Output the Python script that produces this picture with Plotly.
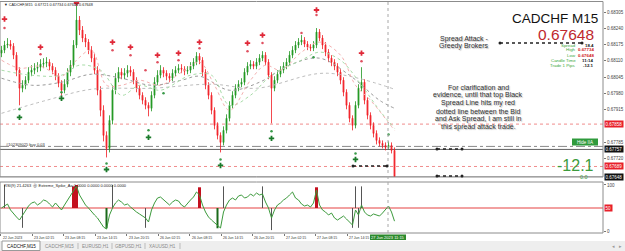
import plotly.graph_objects as go

# ---------------- data ----------------
first_open = 0.68141
closes = [0.68153,0.68173,0.68177,0.68169,0.68133,0.68073,0.68001,0.68013,0.68033,0.68065,
0.68073,0.68081,0.68085,0.68097,0.68101,0.68105,0.68089,0.68073,0.68049,0.68021,
0.67993,0.68017,0.68065,0.68093,0.68173,0.68273,0.68233,0.68201,0.68185,0.68153,
0.68121,0.68073,0.67993,0.67913,0.67813,0.67761,0.67873,0.67993,0.68041,0.68065,
0.68053,0.68061,0.68073,0.68065,0.68033,0.68001,0.67973,0.67953,0.67933,0.67921,
0.67973,0.68025,0.68053,0.68073,0.68061,0.68049,0.68041,0.68061,0.68073,0.68081,
0.68077,0.68069,0.68073,0.68089,0.68105,0.68129,0.68113,0.68065,0.68013,0.67973,
0.67913,0.67853,0.67813,0.67785,0.67833,0.67881,0.67933,0.67973,0.68001,0.68017,
0.68025,0.68065,0.68089,0.68097,0.68089,0.68105,0.68121,0.68133,0.68105,0.68053,
0.68001,0.68033,0.68057,0.68073,0.68089,0.68105,0.68133,0.68153,0.68173,0.68185,
0.68193,0.68177,0.68165,0.68161,0.68173,0.68225,0.68201,0.68173,0.68145,0.68121,
0.68105,0.68089,0.68065,0.68033,0.67985,0.67933,0.67881,0.67853,0.67933,0.68001,
0.68025,0.67953,0.67893,0.67853,0.67821,0.67793,0.67781,0.67773,0.67765,0.67773,
0.67753,0.67648]
highs = [0.68170,0.68190,0.68201,0.68193,0.68181,0.68145,0.68085,0.68033,0.68049,0.68085,
0.68093,0.68101,0.68105,0.68117,0.68121,0.68125,0.68117,0.68101,0.68085,0.68061,
0.68033,0.68037,0.68081,0.68113,0.68193,0.68329,0.68289,0.68249,0.68217,0.68197,
0.68169,0.68137,0.68089,0.68009,0.67933,0.67829,0.67893,0.68013,0.68061,0.68085,
0.68081,0.68081,0.68093,0.68089,0.68077,0.68045,0.68013,0.67985,0.67965,0.67945,
0.67989,0.68045,0.68073,0.68093,0.68085,0.68073,0.68061,0.68077,0.68089,0.68097,
0.68097,0.68089,0.68089,0.68105,0.68121,0.68145,0.68141,0.68125,0.68077,0.68025,
0.67985,0.67925,0.67865,0.67825,0.67849,0.67897,0.67949,0.67989,0.68017,0.68033,
0.68041,0.68081,0.68105,0.68113,0.68109,0.68121,0.68137,0.68149,0.68145,0.68117,
0.68065,0.68049,0.68073,0.68089,0.68105,0.68121,0.68149,0.68169,0.68189,0.68201,
0.68213,0.68205,0.68189,0.68177,0.68189,0.68241,0.68237,0.68213,0.68185,0.68157,
0.68133,0.68117,0.68101,0.68077,0.68045,0.67997,0.67945,0.67893,0.67949,0.68017,
0.68085,0.68037,0.67965,0.67905,0.67865,0.67833,0.67805,0.67793,0.67785,0.67789,
0.67785,0.67765]
lows = [0.68125,0.68141,0.68161,0.68155,0.68117,0.68049,0.67933,0.67985,0.67997,0.68021,
0.68049,0.68057,0.68065,0.68069,0.68081,0.68085,0.68073,0.68057,0.68033,0.68005,
0.67969,0.67981,0.68005,0.68049,0.68081,0.68161,0.68213,0.68185,0.68165,0.68137,
0.68105,0.68057,0.67973,0.67889,0.67789,0.67725,0.67745,0.67857,0.67977,0.68025,
0.68037,0.68037,0.68045,0.68049,0.68017,0.67985,0.67957,0.67937,0.67917,0.67889,
0.67909,0.67961,0.68013,0.68041,0.68045,0.68033,0.68025,0.68029,0.68049,0.68061,
0.68061,0.68053,0.68057,0.68061,0.68077,0.68093,0.68097,0.68049,0.67997,0.67957,
0.67897,0.67837,0.67797,0.67745,0.67773,0.67821,0.67869,0.67921,0.67961,0.67989,
0.68005,0.68013,0.68053,0.68077,0.68077,0.68077,0.68093,0.68109,0.68093,0.68037,
0.67861,0.67989,0.68021,0.68045,0.68061,0.68077,0.68093,0.68121,0.68141,0.68161,
0.68173,0.68165,0.68153,0.68149,0.68149,0.68161,0.68189,0.68157,0.68129,0.68105,
0.68089,0.68073,0.68049,0.68017,0.67969,0.67917,0.67865,0.67833,0.67841,0.67921,
0.67989,0.67937,0.67877,0.67837,0.67805,0.67777,0.67769,0.67761,0.67753,0.67757,
0.67741,0.67645]
opens = [first_open] + closes[:-1]
bars = list(range(len(closes)))

# moving averages (bar index, price)
ma_fast_idx = [0,6,13,20,25,30,35,40,46,53,60,66,71,76,83,88,93,100,106,113,118,123,131]
ma_fast = [0.68113,0.68081,0.68089,0.68049,0.68113,0.68153,0.68013,0.68013,0.68033,0.68013,
           0.68065,0.68105,0.68013,0.67913,0.68033,0.68093,0.68073,0.68145,0.68185,0.68133,
           0.68013,0.67953,0.67833]
ma_green_idx = [0,10,20,26,33,40,46,53,63,70,76,83,90,100,106,113,120,126,131]
ma_green = [0.68073,0.68053,0.68053,0.68093,0.68073,0.67973,0.68013,0.67993,0.68053,0.68053,
            0.67933,0.67973,0.68053,0.68113,0.68145,0.68113,0.68013,0.67913,0.67841]
ma_mid_idx = [0,10,20,30,40,50,60,66,76,86,96,106,116,126,131]
ma_mid = [0.68041,0.68013,0.68025,0.68057,0.68041,0.68013,0.68033,0.68049,0.67993,0.68025,
          0.68093,0.68121,0.68053,0.67953,0.67921]
ma_slow_idx = [0,15,30,50,70,85,108,131]
ma_slow = [0.67901,0.67953,0.67997,0.68001,0.68017,0.68001,0.68061,0.67997]

# arrows / dots
red_arrow_idx = [1,13,25,37,43,52,59,66,82,87,105,120]
red_arrow_p = [0.68277,0.68165,0.68341,0.68185,0.68165,0.68133,0.68141,0.68185,0.68181,0.68213,0.68313,0.68141]
red_dot_idx = [1,13,37,43,48,52,59,66,82,87,100,105,120]
red_dot_p = [0.68241,0.68137,0.68153,0.68133,0.68073,0.68105,0.68113,0.68161,0.68149,0.68181,0.68221,0.68293,0.68109]
green_arrow_idx = [6,20,35,49,73,90,118]
green_arrow_p = [0.67885,0.67961,0.67677,0.67805,0.67693,0.67801,0.67717]
green_dot_idx = [6,20,35,49,54,73,90,104,118,129]
green_dot_p = [0.67917,0.67985,0.67701,0.67833,0.67981,0.67717,0.67829,0.68125,0.67741,0.67817]

# RSI(9)
rsi = [50.0,54.3,58.7,45.7,37.0,30.4,23.9,34.8,45.7,54.3,
60.9,63.0,56.5,60.9,67.4,65.2,58.7,52.2,60.9,54.3,
45.7,56.5,67.4,76.1,89.1,97.8,78.3,67.4,56.5,50.0,
41.3,34.8,28.3,19.6,8.7,4.3,34.8,50.0,60.9,67.4,
63.0,56.5,58.7,52.2,45.7,41.3,37.0,32.6,28.3,19.6,
45.7,60.9,71.7,73.9,67.4,60.9,56.5,63.0,67.4,65.2,
56.5,52.2,60.9,67.4,73.9,84.8,78.3,56.5,41.3,30.4,
23.9,17.4,13.0,6.5,41.3,56.5,67.4,71.7,67.4,76.1,
78.3,71.7,73.9,80.4,76.1,82.6,78.3,80.4,63.0,50.0,
28.3,45.7,56.5,60.9,67.4,71.7,78.3,84.8,71.7,67.4,
58.7,54.3,56.5,52.2,60.9,89.1,56.5,45.7,41.3,34.8,
39.1,28.3,23.9,28.3,32.6,26.1,19.6,13.0,45.7,34.8,
56.5,41.3,34.8,32.6,37.0,34.8,32.6,39.1,47.8,54.3,
41.3,21.4]
spike_gray_idx = [1,7,37,48,74,87,90,117,118,119,120]
spike_gray_val = [100,7,100,7,97,97,2,7,97,7,97]
spike_red_idx = [24,25,66,105]
spike_red_val = [97,100,95,95]
spike_green_idx = [35,72]
spike_green_val = [6,6]

# 0.67850 tick is hidden under the red level label in the picture
price_ticks = [0.68305,0.68240,0.68175,0.68110,0.68045,0.67980,0.67915,0.67785,0.67720]
level_prices = [0.67858,0.67757,0.67689,0.67648]
level_colors = ['#e8202a','#111111','#e8202a','#111111']

date_pos = [-0.17,10.17,20.5,31.17,41.83,52.17,62.83,73.17,83.5,94.17,104.5,115.17]
date_labels = ["22 Jun 2023","23 Jun 02:15","23 Jun 08:15","23 Jun 14:15","23 Jun 20:15",
               "26 Jun 02:15","26 Jun 08:15","26 Jun 14:15","26 Jun 20:15","27 Jun 02:15",
               "27 Jun 08:15","27 Jun 14:15"]

# ---------------- layout helpers (pixel -> paper) ----------------
PW = 603.0
def X(px): return px / PW
def Y(py): return (233.0 - py) / 231.0

FONT = "Liberation Sans, Arial, DejaVu Sans, sans-serif"

fig = go.Figure()

# moving averages
for xi, yv, col in [(ma_slow_idx, ma_slow, '#bdbdbd'), (ma_mid_idx, ma_mid, '#9a9a9a'),
                    (ma_green_idx, ma_green, '#a8dca8'), (ma_fast_idx, ma_fast, '#f4b0b0')]:
    fig.add_trace(go.Scatter(x=xi, y=yv, mode='lines', line=dict(color=col, width=1, dash='dot', shape='spline'),
                             xaxis='x', yaxis='y', hoverinfo='skip'))

fig.add_trace(go.Candlestick(x=bars, open=opens, high=highs, low=lows, close=closes,
                             increasing=dict(line=dict(color='#1f951f', width=0.8), fillcolor='#2aa02a'),
                             decreasing=dict(line=dict(color='#f01c22', width=0.8), fillcolor='#f43a3f'),
                             whiskerwidth=0, xaxis='x', yaxis='y'))

fig.add_trace(go.Scatter(x=red_dot_idx, y=red_dot_p, mode='markers',
                         marker=dict(symbol='circle', size=2.5, color='#e05060'), xaxis='x', yaxis='y'))
fig.add_trace(go.Scatter(x=red_arrow_idx, y=red_arrow_p, mode='markers',
                         marker=dict(symbol='cross', size=4.5, color='#e02838'), xaxis='x', yaxis='y'))
fig.add_trace(go.Scatter(x=green_dot_idx, y=green_dot_p, mode='markers',
                         marker=dict(symbol='circle', size=2.5, color='#3a9a4a'), xaxis='x', yaxis='y'))
fig.add_trace(go.Scatter(x=green_arrow_idx, y=green_arrow_p, mode='markers',
                         marker=dict(symbol='cross', size=4.5, color='#1a7a2a'), xaxis='x', yaxis='y'))

# RSI panel
def seg(idx, vals):
    xs, ys = [], []
    for i, v in zip(idx, vals):
        xs += [i, i, None]
        ys += [50, v, None]
    return xs, ys

for idx, vals, col, w in [(spike_gray_idx, spike_gray_val, '#555555', 1),
                          (spike_red_idx, spike_red_val, '#c4101e', 3),
                          (spike_green_idx, spike_green_val, '#1a6a1a', 2)]:
    xs, ys = seg(idx, vals)
    fig.add_trace(go.Scatter(x=xs, y=ys, mode='lines', line=dict(color=col, width=w),
                             xaxis='x', yaxis='y2', hoverinfo='skip'))
fig.add_trace(go.Scatter(x=bars, y=rsi, mode='lines', line=dict(color='#3c9a3c', width=1),
                         xaxis='x', yaxis='y2'))

shapes = []
def hl(p, col, dash, w):
    shapes.append(dict(type='line', xref='paper', yref='y', x0=0, x1=1, y0=p, y1=p,
                       line=dict(color=col, dash=dash, width=w), layer='below'))
hl(level_prices[0], '#f08c8c', 'dot', 1)
hl(0.67769, '#8a8a8a', 'dashdot', 1)
hl(level_prices[1], '#606060', 'solid', 1)
hl(level_prices[2], '#f08c8c', 'dot', 1)
hl(level_prices[3], '#a0a0a0', 'solid', 1)
shapes.append(dict(type='line', xref='paper', yref='y2', x0=0, x1=1, y0=50, y1=50,
                   line=dict(color='#f2a0a0', width=2), layer='below'))
# frames
shapes.append(dict(type='rect', xref='paper', yref='paper', x0=0, x1=1, y0=Y(177), y1=Y(1.5),
                   line=dict(color='#8c8c8c', width=1)))
shapes.append(dict(type='rect', xref='paper', yref='paper', x0=0, x1=1, y0=Y(233), y1=Y(182),
                   line=dict(color='#8c8c8c', width=1)))
# crosshair vertical
shapes.append(dict(type='line', xref='paper', yref='paper', x0=X(388), x1=X(388), y0=Y(233), y1=Y(2),
                   line=dict(color='#a8a8a8', width=1, dash='dot')))
# dotted arrows
for (x0, x1, py) in [(500, 582, 43), (437, 462, 149), (437, 462, 176), (353, 387, 166)]:
    shapes.append(dict(type='line', xref='paper', yref='paper', x0=X(x0), x1=X(x1), y0=Y(py), y1=Y(py),
                       line=dict(color='#222222', width=1.5, dash='dot')))
    shapes.append(dict(type='circle', xref='paper', yref='paper', x0=X(x0-1.5), x1=X(x0+1.5),
                       y0=Y(py+1.5), y1=Y(py-1.5), fillcolor='#222222', line=dict(width=0)))
    shapes.append(dict(type='circle', xref='paper', yref='paper', x0=X(x1-1.5), x1=X(x1+1.5),
                       y0=Y(py+1.5), y1=Y(py-1.5), fillcolor='#222222', line=dict(width=0)))
# Hide button
shapes.append(dict(type='rect', xref='paper', yref='paper', x0=X(572), x1=X(598), y0=Y(145.5), y1=Y(138.5),
                   fillcolor='#2f9a3c', line=dict(width=0)))
# crosshair date box
shapes.append(dict(type='rect', xref='paper', yref='paper', x0=X(370), x1=X(406), y0=Y(240), y1=Y(234.5),
                   fillcolor='#2d8a2d', line=dict(width=0)))
# tab strip
shapes.append(dict(type='rect', xref='paper', yref='paper', x0=X(0), x1=X(625), y0=Y(251), y1=Y(241),
                   fillcolor='#eeeeee', line=dict(width=0), layer='below'))
shapes.append(dict(type='rect', xref='paper', yref='paper', x0=X(2), x1=X(40), y0=Y(250.5), y1=Y(241),
                   fillcolor='#ffffff', line=dict(color='#9a9a9a', width=1)))
for sx in [78, 112, 145, 180]:
    shapes.append(dict(type='line', xref='paper', yref='paper', x0=X(sx), x1=X(sx), y0=Y(249), y1=Y(243),
                       line=dict(color='#bbbbbb', width=1)))

ann = []
def A(px, py, text, size=5, color='#333333', xanchor='left', **kw):
    d = dict(xref='paper', yref='paper', x=X(px), y=Y(py), text=text, showarrow=False,
             xanchor=xanchor, yanchor='middle', font=dict(size=size, color=color, family=FONT))
    d.update(kw)
    ann.append(d)

A(2, 4.5, "▼ CADCHF,M15  0.67721 0.67734 0.67648 0.67648", 3.8, '#222222')
A(600, 18.5, "CADCHF M15", 13.5, '#111111', 'right')
A(596, 34.5, "0.67648", 15.5, '#c0282d', 'right')
info = [("Spread", "18.4", '#111111', 45), ("High", "0.67734", '#d02020', 50),
        ("Low", "0.67648", '#d02020', 55), ("Candle Time", "11:14", '#111111', 60),
        ("Trade 1 Pips", "-12.1", '#111111', 65)]
for lab, val, vc, py in info:
    A(578, py, lab, 4.4, '#3aa83a', 'right')
    A(596, py, "<b>" + val + "</b>", 4.4, vc, 'right')
sh = dict(size=7, color='#333333', family=FONT, shadow='1px 1px 1px #b8b8b8')
for py, t in [(38.5, "Spread Attack -"), (46.5, "Greedy Brokers")]:
    ann.append(dict(xref='paper', yref='paper', x=X(464), y=Y(py), text=t, showarrow=False,
                    xanchor='center', yanchor='middle', font=sh))
para = ["For clarification and", "evidence, until that top Black", "Spread Line hits my red",
        "dotted line between the Bid", "and Ask Spread, I am still in", "this spread attack trade."]
for k, t in enumerate(para):
    ann.append(dict(xref='paper', yref='paper', x=X(478), y=Y(87 + 8 * k), text=t, showarrow=False,
                    xanchor='center', yanchor='middle', font=sh))
A(585, 142, "Hide IIA", 4.5, '#ffffff', 'center')
A(596, 165, "-12.1", 16, '#3d9b3d', 'right')
A(584, 176.5, "0.0", 5.5, '#3d9b3d', 'center')
A(4, 144, "#102309025 buy 0.03", 4, '#333333')
A(2, 185.5, "RSI(9) 21.4263  ⓔ Extreme_Spike_Aa 0.0000 0.0000 0.0000 0.0000", 4, '#222222')
A(388, 237.5, "27 Jun 2023 11:15", 4, '#ffffff', 'center')
# price level labels on right axis
for p, c in zip(level_prices, level_colors):
    ann.append(dict(xref='paper', yref='y', x=X(604), y=p, text="%.5f" % p, showarrow=False,
                    xanchor='left', yanchor='middle', bgcolor=c, borderpad=0.5,
                    font=dict(size=4.5, color='#ffffff', family=FONT)))
ann.append(dict(xref='paper', yref='y2', x=X(604), y=50, text="50", showarrow=False,
                xanchor='left', yanchor='middle', bgcolor='#e8202a', borderpad=0.5,
                font=dict(size=4.5, color='#ffffff', family=FONT)))
# dates
for pos, lab in zip(date_pos, date_labels):
    ann.append(dict(xref='x', yref='paper', x=pos, y=Y(237.5), text=lab, showarrow=False,
                    xanchor='left', yanchor='middle', font=dict(size=3.5, color='#333333', family=FONT)))
# tabs
A(21, 246, "CADCHF,M15", 4.6, '#111111', 'center')
for cx, t in [(59, "CADCHF,M15"), (95, "EURUSD,H1"), (128.5, "GBPUSD,H1"), (162.5, "XAUUSD,H1")]:
    A(cx, 246, t, 4.6, '#8a8a8a', 'center')
A(613, 246, "◂", 5, '#999999', 'center')
A(620, 246, "▸", 5, '#999999', 'center')

fig.update_layout(
    width=625, height=251, autosize=False,
    margin=dict(l=0, r=22, t=2, b=18),
    paper_bgcolor='white', plot_bgcolor='white', showlegend=False,
    font=dict(family=FONT, size=5, color='#333333'),
    boxgap=0.55,
    xaxis=dict(range=[-0.5, 200.5], anchor='y2', showgrid=False, zeroline=False, showticklabels=False,
               ticks='outside', ticklen=2, tickcolor='#777777', tickvals=date_pos,
               rangeslider=dict(visible=False), fixedrange=True),
    yaxis=dict(domain=[Y(177), 1.0], range=[0.67647, 0.68345], side='right', showgrid=False,
               zeroline=False, tickvals=price_ticks, ticktext=["%.5f" % v for v in price_ticks],
               ticks='outside', ticklen=2, tickcolor='#777777', tickfont=dict(size=4.5, color='#444444'),
               showline=False),
    yaxis2=dict(domain=[0.0, Y(182)], range=[-4.3, 106.5], side='right', showgrid=False, zeroline=False,
                tickvals=[0, 100], ticktext=['0', '100'], ticks='outside', ticklen=2, tickcolor='#777777',
                tickfont=dict(size=4.5, color='#444444')),
    shapes=shapes, annotations=ann,
)
fig.write_html("out.html")
